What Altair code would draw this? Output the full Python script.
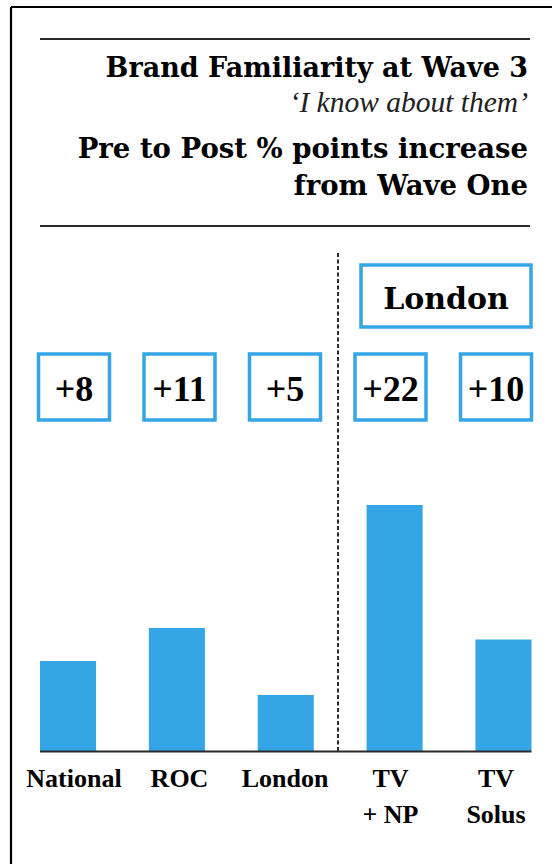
import altair as alt
import pandas as pd

# ---- data ----
categories = ["National", "ROC", "London", "TV\n+ NP", "TV\nSolus"]
familiarity = [18.0, 24.6, 11.2, 49.2, 22.3]      # bar heights (relative units)
increase = [8, 11, 5, 22, 10]                     # pre-to-post % point increase
title_lines = ["Brand Familiarity at Wave 3", "\u2018I know about them\u2019",
               "Pre to Post % points increase", "from Wave One"]
group_label = ["London"]

df = pd.DataFrame({"cat": categories, "val": familiarity, "inc": increase})
one = pd.DataFrame({"d": [0]})

BLUE = "#36A5E6"
DARK = "#2a2a2a"
HEAD_FONT = "DejaVu Serif"
LAB_FONT = "Liberation Serif"

bar_x = alt.X("cat:N", sort=categories, axis=None,
              scale=alt.Scale(range=[40, 531.5], paddingInner=0.485, paddingOuter=0))
lab_x = alt.X("cat:N", sort=categories, axis=None,
              scale=alt.Scale(type="point", range=[74, 496], padding=0))

bars = alt.Chart(df).mark_bar(color=BLUE).encode(
    x=bar_x,
    y=alt.Y("val:Q", axis=None, scale=alt.Scale(domain=[0, 100], range=[751, 251])),
)

box_shape = "M-1,-0.93L1,-0.93L1,0.93L-1,0.93Z"
boxes = alt.Chart(df).mark_point(
    shape=box_shape, size=71 * 71, filled=False, stroke=BLUE, strokeWidth=3.5, opacity=1
).encode(x=lab_x, y=alt.value(387))

box_text = alt.Chart(df).mark_text(
    font=LAB_FONT, fontWeight="bold", fontSize=36, color="black", baseline="alphabetic"
).encode(x=lab_x, y=alt.value(401), text=alt.Text("inc:Q", format="+d"))

cat_text = alt.Chart(df).mark_text(
    font=LAB_FONT, fontWeight="bold", fontSize=26, color="black", baseline="alphabetic",
    lineBreak="\n", lineHeight=36
).encode(x=lab_x, y=alt.value(787), text="cat:N")

# header lines
def header(i, y, size, italic=False):
    d = pd.DataFrame({"t": [title_lines[i]]})
    kw = dict(fontStyle="italic", font=LAB_FONT, fontWeight="normal", color="#222") if italic else \
        dict(font=HEAD_FONT, fontWeight="bold", color="black")
    return alt.Chart(d).mark_text(align="right", baseline="alphabetic", fontSize=size, **kw).encode(
        x=alt.value(528), y=alt.value(y), text="t:N")

h1 = header(0, 77, 27)
h2 = header(1, 112, 29.5, italic=True)
h3 = header(2, 158, 27.5)
h4 = header(3, 195, 27.5)

top_rule = alt.Chart(one).mark_rule(color=DARK, strokeWidth=2).encode(
    x=alt.value(40), x2=alt.value(530), y=alt.value(39))
bot_rule = alt.Chart(one).mark_rule(color=DARK, strokeWidth=2).encode(
    x=alt.value(40), x2=alt.value(530), y=alt.value(226))
base_rule = alt.Chart(one).mark_rule(color=DARK, strokeWidth=2).encode(
    x=alt.value(40), x2=alt.value(531.5), y=alt.value(751.5))
divider = alt.Chart(one).mark_rule(color=DARK, strokeWidth=2, strokeDash=[4, 2.5]).encode(
    x=alt.value(338), y=alt.value(253), y2=alt.value(751))
border_l = alt.Chart(one).mark_rule(color="black", strokeWidth=2.2).encode(
    x=alt.value(11), y=alt.value(7), y2=alt.value(864))
border_t = alt.Chart(one).mark_rule(color="black", strokeWidth=2.2).encode(
    x=alt.value(11), x2=alt.value(552), y=alt.value(7))

lon_box = alt.Chart(one).mark_rect(fill="white", stroke=BLUE, strokeWidth=3.5).encode(
    x=alt.value(361), x2=alt.value(531), y=alt.value(265), y2=alt.value(327))
lon_text = alt.Chart(pd.DataFrame({"t": group_label})).mark_text(
    font=HEAD_FONT, fontWeight="bold", fontSize=30, color="black", baseline="alphabetic"
).encode(x=alt.value(446), y=alt.value(309), text="t:N")

chart = alt.layer(
    bars, base_rule, divider, boxes, box_text, cat_text,
    h1, h2, h3, h4, top_rule, bot_rule, border_l, border_t, lon_box, lon_text
).resolve_scale(x="independent").properties(
    width=552, height=864, autosize=alt.AutoSizeParams(type="none"), padding=0,
    background="white"
).configure_view(stroke=None)

chart.save("out.html", embed_options={"renderer": "svg", "actions": False})
